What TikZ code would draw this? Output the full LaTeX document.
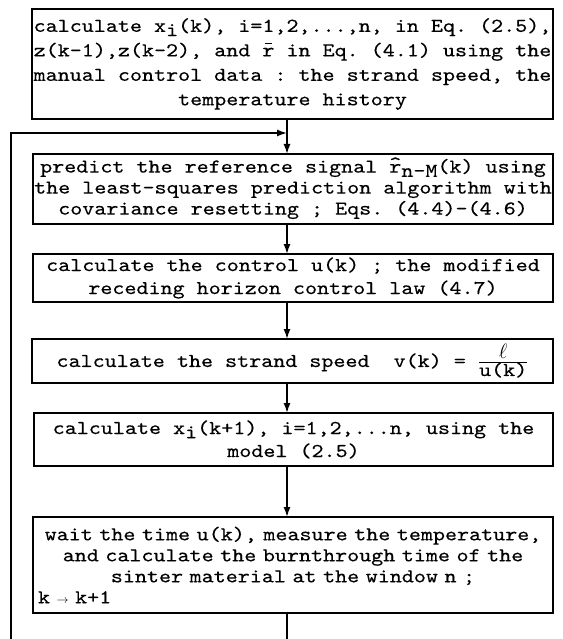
\documentclass[tikz,border=0pt]{standalone}
\usepackage{fontspec}
\setmonofont{lmmono10-regular.otf}[FakeStretch=1.17,FakeBold=0.35]
\usetikzlibrary{arrows.meta}
\newcommand\lo[1]{\smash{\raisebox{-0.5ex}{#1}}}
\newcommand\hatr{{\ooalign{r\cr\hidewidth\raisebox{0.15em}{\char"5E}\hidewidth\cr}}}
\newcommand\barr{{\ooalign{r\cr\hidewidth\rule[0.62em]{0.34em}{0.07em}\hidewidth\cr}}}
\tikzset{
  cell/.style={draw, line width=1.1pt, inner sep=0pt, outer sep=0pt, align=center,
    font=\ttfamily\fontsize{19.6}{#1}\selectfont},
  arr/.style={line width=1.5pt, -{Latex[length=10pt,width=7pt]}},
  conn/.style={line width=1.5pt},
}
\begin{document}
\begin{tikzpicture}[x=1pt,y=-1pt]
\useasboundingbox (0,0) rectangle (562,639);
\node[cell=24.5, minimum width=521pt, minimum height=110pt] (b1) at (292.5,64)
  {calculate x\lo{i}(k), i=1,2,...,n, in Eq. (2.5),\\
   z(k-1),z(k-2), and \barr{} in Eq. (4.1) using the\\
   manual control data : the strand speed, the\\
   temperature history};
\node[cell=21, minimum width=520pt, minimum height=70pt] (b2) at (293,189)
  {predict the reference signal \hatr\lo{n-M}(k) using\\
   the least-squares prediction algorithm with\\
   covariance resetting ; Eqs. (4.4)-(4.6)};
\node[cell=23, minimum width=520pt, minimum height=48pt] (b3) at (293,278)
  {calculate the control u(k) ; the modified\\
   receding horizon control law (4.7)};
\node[cell=22, minimum width=521pt, minimum height=44pt] (b4) at (292.5,361)
  {calculate the strand speed\ \ v(k) = $\frac{\textstyle\ell}{\hbox{u(k)}}$};
\node[cell=23, minimum width=519pt, minimum height=53pt] (b5) at (293.5,439.5)
  {calculate x\lo{i}(k+1), i=1,2,...n, using the\\
   model (2.5)};
\node[cell=21, minimum width=520pt, minimum height=96pt, text width=520pt] (b6) at (293,565)
  {wait the time u(k), measure the temperature,\\
   and calculate the burnthrough time of the\\
   sinter material at the window n ;\\
   \hspace*{5pt}k {\fontsize{12}{12}\selectfont$\rightarrow$} k+1\hfill\null};
\coordinate (ax) at (287,0);
\coordinate (lb) at (11,639);
\coordinate (lt) at (11,133);
\coordinate (jn) at (287,133);
\coordinate (bb) at (287,639);
\draw[arr] (b1.south -| ax) -- (b2.north -| ax);
\draw[arr] (lb) -- (lt) -- (jn);
\draw[arr] (b2.south -| ax) -- (b3.north -| ax);
\draw[arr] (b3.south -| ax) -- (b4.north -| ax);
\draw[arr] (b4.south -| ax) -- (b5.north -| ax);
\draw[arr] (b5.south -| ax) -- (b6.north -| ax);
\draw[conn] (b6.south -| ax) -- (bb);
\end{tikzpicture}
\end{document}
